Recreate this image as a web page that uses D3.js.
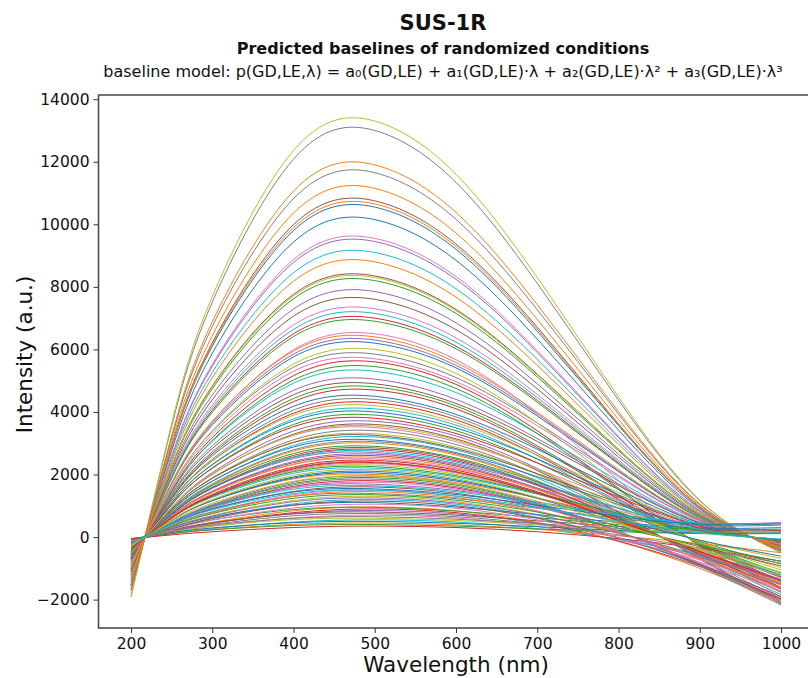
<!DOCTYPE html>
<html>
<head>
<meta charset="utf-8">
<script src="https://cdn.jsdelivr.net/npm/d3@7"></script>
<style>
  body { margin: 0; background: #fff; }
  svg text { font-family: "DejaVu Sans", sans-serif; fill: #111; }
</style>
</head>
<body>
<svg id="chart" width="808" height="678"></svg>
<script>
const wavelengths = [200, 250, 300, 400, 500, 600, 700, 800, 900, 1000];

// predicted baselines, one row per randomized condition (intensity, a.u.)
const baselines = [
  [-1470, 2760, 5870, 9430, 10150, 8850, 6330, 3420, 900, -390],
  [-1730, 3240, 6880, 11060, 11900, 10380, 7430, 4010, 1060, -450],
  [-1190, 2230, 4740, 7620, 8200, 7150, 5120, 2760, 730, -310],
  [-1020, 1900, 4050, 6500, 7000, 6100, 4370, 2360, 620, -270],
  [-1370, 2570, 5460, 8780, 9450, 8240, 5900, 3180, 840, -360],
  [-1560, 2920, 6210, 9990, 10750, 9370, 6710, 3620, 960, -410],
  [-1380, 2600, 5520, 8870, 9550, 8330, 5960, 3220, 850, -360],
  [-1890, 3540, 7510, 12080, 13000, 11340, 8110, 4380, 1160, -490],
  [-1930, 3620, 7690, 12360, 13300, 11600, 8300, 4480, 1180, -510],
  [-1320, 2480, 5260, 8450, 9100, 7940, 5680, 3070, 810, -350],

  [-900, 1690, 3580, 5760, 6200, 5410, 3870, 2090, 550, -240],
  [-1620, 3030, 6440, 10360, 11150, 9720, 6960, 3760, 990, -420],
  [-1000, 1880, 3990, 6410, 6900, 6020, 4310, 2330, 610, -260],
  [-810, 1480, 3180, 5160, 5600, 4880, 3400, 1560, -260, -1660],
  [-1140, 2140, 4540, 7290, 7850, 6850, 4900, 2650, 700, -300],
  [-1210, 2270, 4830, 7760, 8350, 7280, 5210, 2810, 740, -320],
  [-1060, 1990, 4220, 6780, 7300, 6370, 4560, 2460, 650, -280],
  [-1690, 3170, 6730, 10820, 11650, 10160, 7270, 3930, 1040, -440],
  [-1200, 2260, 4800, 7710, 8300, 7240, 5180, 2800, 740, -320],
  [-1040, 1940, 4130, 6640, 7150, 6230, 4460, 2410, 640, -270],

  [-1530, 2870, 6100, 9800, 10550, 9200, 6580, 3560, 940, -400],
  [-1540, 2900, 6160, 9890, 10650, 9290, 6650, 3590, 950, -400],
  [-700, 1270, 2720, 4430, 4800, 4190, 2920, 1340, -230, -1420],
  [-680, 1240, 2660, 4330, 4700, 4100, 2860, 1310, -220, -1390],
  [-910, 1710, 3640, 5850, 6300, 5490, 3930, 2120, 560, -240],
  [-1100, 2070, 4390, 7060, 7600, 6630, 4740, 2560, 680, -290],
  [-940, 1720, 3690, 5990, 6500, 5670, 3950, 1810, -310, -1920],
  [-850, 1590, 3380, 5430, 5850, 5100, 3650, 1970, 520, -220],
  [-870, 1580, 3400, 5530, 6000, 5230, 3650, 1670, -280, -1780],
  [-770, 1440, 3060, 4920, 5300, 4620, 3310, 1790, 470, -200],

  [-650, 1220, 2600, 4180, 4500, 3920, 2810, 1520, 400, -170],
  [-1280, 2390, 5090, 8180, 8800, 7670, 5490, 2970, 780, -330],
  [-790, 1440, 3090, 5020, 5450, 4750, 3310, 1520, -260, -1610],
  [-620, 1140, 2440, 3960, 4300, 3750, 2610, 1200, -200, -1270],
  [-730, 1370, 2920, 4690, 5050, 4400, 3150, 1700, 450, -190],
  [-710, 1330, 2830, 4550, 4900, 4270, 3060, 1650, 440, -190],
  [-830, 1550, 3290, 5300, 5700, 4970, 3560, 1920, 510, -220],
  [-640, 1160, 2490, 4060, 4400, 3840, 2680, 1230, -210, -1300],
  [-610, 1140, 2430, 3900, 4200, 3660, 2620, 1420, 370, -160],
  [-590, 1080, 2320, 3780, 4100, 3580, 2490, 1140, -190, -1210],

  [-580, 1090, 2310, 3720, 4000, 3490, 2500, 1350, 360, -150],
  [-930, 1740, 3700, 5950, 6400, 5580, 3990, 2160, 570, -240],
  [-570, 1030, 2210, 3600, 3900, 3400, 2370, 1090, -180, -1150],
  [-550, 1030, 2200, 3530, 3800, 3310, 2370, 1280, 340, -140],
  [-540, 940, 2060, 3390, 3700, 3230, 2190, 800, -710, -2130],
  [-530, 920, 2000, 3290, 3600, 3140, 2130, 780, -690, -2070],
  [-510, 950, 2020, 3250, 3500, 3050, 2180, 1180, 310, -130],
  [-500, 870, 1890, 3110, 3400, 2960, 2010, 730, -660, -1960],
  [-480, 870, 1870, 3040, 3300, 2880, 2010, 920, -160, -980],
  [-470, 820, 1780, 2930, 3200, 2790, 1890, 690, -620, -1840],

  [-450, 840, 1790, 2880, 3100, 2700, 1930, 1040, 280, -120],
  [-440, 770, 1670, 2750, 3000, 2620, 1770, 650, -580, -1730],
  [-420, 770, 1640, 2670, 2900, 2530, 1760, 810, -140, -860],
  [-410, 710, 1560, 2560, 2800, 2440, 1650, 600, -540, -1610],
  [-390, 730, 1560, 2510, 2700, 2350, 1680, 910, 240, -100],
  [-380, 660, 1450, 2380, 2600, 2270, 1540, 560, -500, -1500],
  [-360, 680, 1440, 2320, 2500, 2180, 1560, 840, 220, -95],
  [-350, 610, 1330, 2200, 2400, 2090, 1420, 520, -460, -1380],
  [-330, 610, 1300, 2120, 2300, 2010, 1400, 640, -110, -680],
  [-320, 600, 1270, 2040, 2200, 1920, 1370, 740, 200, -80],

  [-310, 540, 1170, 1920, 2100, 1830, 1240, 450, -410, -1210],
  [-290, 540, 1160, 1860, 2000, 1740, 1250, 670, 180, -80],
  [-280, 450, 1010, 1710, 1900, 1660, 1060, 180, -900, -2120],
  [-260, 430, 960, 1620, 1800, 1570, 1000, 170, -860, -2010],
  [-220, 470, 990, 1580, 1690, 1490, 1120, 720, 450, 460],
  [-230, 410, 890, 1460, 1600, 1400, 950, 350, -310, -920],
  [-220, 360, 800, 1350, 1500, 1310, 840, 140, -710, -1670],
  [-180, 390, 810, 1300, 1390, 1230, 920, 590, 370, 380],
  [-190, 310, 690, 1170, 1300, 1130, 720, 120, -620, -1450],
  [-180, 260, 610, 1060, 1200, 1050, 630, -30, -910, -1980],

  [-140, 300, 640, 1020, 1100, 960, 720, 470, 290, 300],
  [-140, 190, 470, 840, 960, 840, 470, -140, -1000, -2100],
  [-120, 260, 550, 880, 950, 830, 620, 400, 250, 250],
  [-130, 180, 440, 780, 900, 780, 440, -130, -940, -1970],
  [-120, 190, 440, 750, 850, 740, 450, -20, -650, -1400],
  [-100, 220, 460, 740, 800, 700, 520, 340, 210, 210],
  [-100, 140, 340, 610, 700, 610, 340, -100, -730, -1530],
  [-85, 180, 380, 600, 650, 570, 430, 270, 170, 170],
  [-80, 170, 350, 560, 600, 530, 390, 250, 160, 160],
  [-80, 110, 270, 480, 550, 480, 270, -80, -570, -1200],

  [-70, 140, 290, 460, 500, 440, 330, 210, 130, 130],
  [-70, 110, 240, 405, 450, 390, 250, 40, -210, -500],
  [-50, 110, 230, 370, 400, 350, 260, 170, 110, 110],
  [-50, 70, 170, 305, 350, 305, 170, -50, -360, -770],
  [-390, 680, 1470, 2420, 2650, 2310, 1570, 570, -510, -1530],
  [-470, 880, 1880, 3020, 3250, 2830, 2030, 1100, 290, -120],
  [-340, 600, 1310, 2150, 2350, 2050, 1390, 510, -450, -1350],
  [-270, 440, 990, 1670, 1850, 1610, 1030, 180, -880, -2060],
  [-510, 940, 2010, 3270, 3550, 3100, 2160, 990, -170, -1050],
  [-400, 750, 1590, 2550, 2750, 2400, 1720, 930, 245, -100],

  [-300, 540, 1160, 1890, 2050, 1790, 1250, 570, -100, -610],
  [-370, 650, 1420, 2330, 2550, 2220, 1510, 550, -490, -1470],
  [-330, 610, 1300, 2090, 2250, 1960, 1400, 760, 200, -90],
  [-360, 620, 1360, 2240, 2450, 2140, 1450, 530, -470, -1410],
  [-290, 460, 1040, 1760, 1950, 1700, 1090, 185, -930, -2170],
  [-420, 730, 1580, 2610, 2850, 2490, 1680, 620, -550, -1640],
  [-260, 420, 930, 1580, 1750, 1530, 970, 170, -830, -1950],
  [-450, 780, 1700, 2790, 3050, 2660, 1800, 660, -590, -1760],
  [-310, 550, 1200, 1970, 2150, 1870, 1270, 460, -410, -1240],
  [-220, 460, 960, 1530, 1640, 1450, 1080, 700, 440, 440],

  [-200, 430, 900, 1440, 1540, 1360, 1020, 660, 410, 420],
  [-210, 350, 770, 1310, 1450, 1260, 810, 140, -690, -1620],
  [-200, 340, 750, 1240, 1350, 1180, 800, 290, -260, -780],
  [-350, 610, 1320, 2180, 2380, 2080, 1410, 510, -460, -1370],
  [-180, 300, 670, 1130, 1250, 1090, 700, 120, -600, -1390],
  [-170, 250, 590, 1020, 1150, 1000, 600, -30, -870, -1900],
  [-150, 230, 540, 930, 1050, 920, 550, -30, -800, -1730],
  [-110, 180, 400, 680, 750, 650, 420, 70, -360, -840],
  [-280, 500, 1080, 1780, 1950, 1700, 1150, 420, -380, -1120],
  [-220, 410, 870, 1390, 1500, 1310, 940, 510, 130, -60]
];

const xTicks = [200, 300, 400, 500, 600, 700, 800, 900, 1000];
const yTicks = [-2000, 0, 2000, 4000, 6000, 8000, 10000, 12000, 14000];

const titleText = "SUS-1R";
const subtitleText = "Predicted baselines of randomized conditions";
const modelText = "baseline model: p(GD,LE,\u03bb) = a\u2080(GD,LE) + a\u2081(GD,LE)\u00b7\u03bb + a\u2082(GD,LE)\u00b7\u03bb\u00b2 + a\u2083(GD,LE)\u00b7\u03bb\u00b3";

const svg = d3.select('#chart');

// plot box
const plotLeft = 98.5, plotRight = 813.5, plotTop = 95, plotBottom = 628;

const x = d3.scaleLinear().domain([160, 1040]).range([plotLeft, plotRight]);
const y = d3.scaleLinear().domain([-2908, 14134]).range([plotBottom, plotTop]);
const color = d3.scaleOrdinal(d3.schemeCategory10);

svg.append('defs').append('clipPath')
    .attr('id', 'plot-clip')
    .append('rect')
    .attr('x', plotLeft).attr('y', plotTop)
    .attr('width', plotRight - plotLeft).attr('height', plotBottom - plotTop);

// curves
const line = d3.line()
    .x((d, i) => x(wavelengths[i]))
    .y(d => y(d))
    .curve(d3.curveNatural);

svg.append('g')
    .attr('clip-path', 'url(#plot-clip)')
    .selectAll('path')
    .data(baselines)
    .join('path')
    .attr('d', line)
    .attr('fill', 'none')
    .attr('stroke', (d, i) => color(i % 10))
    .attr('stroke-width', 1);

// axes
const xAxis = svg.append('g')
    .attr('transform', `translate(0,${plotBottom})`)
    .call(d3.axisBottom(x).tickValues(xTicks).tickSize(5).tickPadding(5).tickFormat(d3.format('d')));

const yAxis = svg.append('g')
    .attr('transform', `translate(${plotLeft},0)`)
    .call(d3.axisLeft(y).tickValues(yTicks).tickSize(5).tickPadding(4).tickFormat(d3.format('d')));

[xAxis, yAxis].forEach(g => {
    g.select('.domain').remove();
    g.selectAll('line').attr('stroke', '#333').attr('stroke-width', 1);
    g.selectAll('text')
        .attr('fill', '#111')
        .style('font-family', '"DejaVu Sans", sans-serif')
        .style('font-size', '15.5px');
});

// spines
svg.append('rect')
    .attr('x', plotLeft).attr('y', plotTop)
    .attr('width', plotRight - plotLeft).attr('height', plotBottom - plotTop)
    .attr('fill', 'none')
    .attr('stroke', '#444')
    .attr('stroke-width', 1.5);

// titles
const cx = 443;
svg.append('text')
    .attr('x', cx).attr('y', 30)
    .attr('text-anchor', 'middle')
    .style('font-size', '21px').style('font-weight', 'bold')
    .text(titleText);

svg.append('text')
    .attr('x', cx).attr('y', 54)
    .attr('text-anchor', 'middle')
    .style('font-size', '16px').style('font-weight', 'bold')
    .text(subtitleText);

svg.append('text')
    .attr('x', cx).attr('y', 77)
    .attr('text-anchor', 'middle')
    .style('font-size', '16px')
    .text(modelText);

// axis labels
svg.append('text')
    .attr('x', (plotLeft + plotRight) / 2).attr('y', 672)
    .attr('text-anchor', 'middle')
    .style('font-size', '21.5px')
    .text('Wavelength (nm)');

svg.append('text')
    .attr('transform', `translate(32,${(plotTop + plotBottom) / 2 - 7}) rotate(-90)`)
    .attr('text-anchor', 'middle')
    .style('font-size', '21.5px')
    .text('Intensity (a.u.)');
</script>
</body>
</html>
